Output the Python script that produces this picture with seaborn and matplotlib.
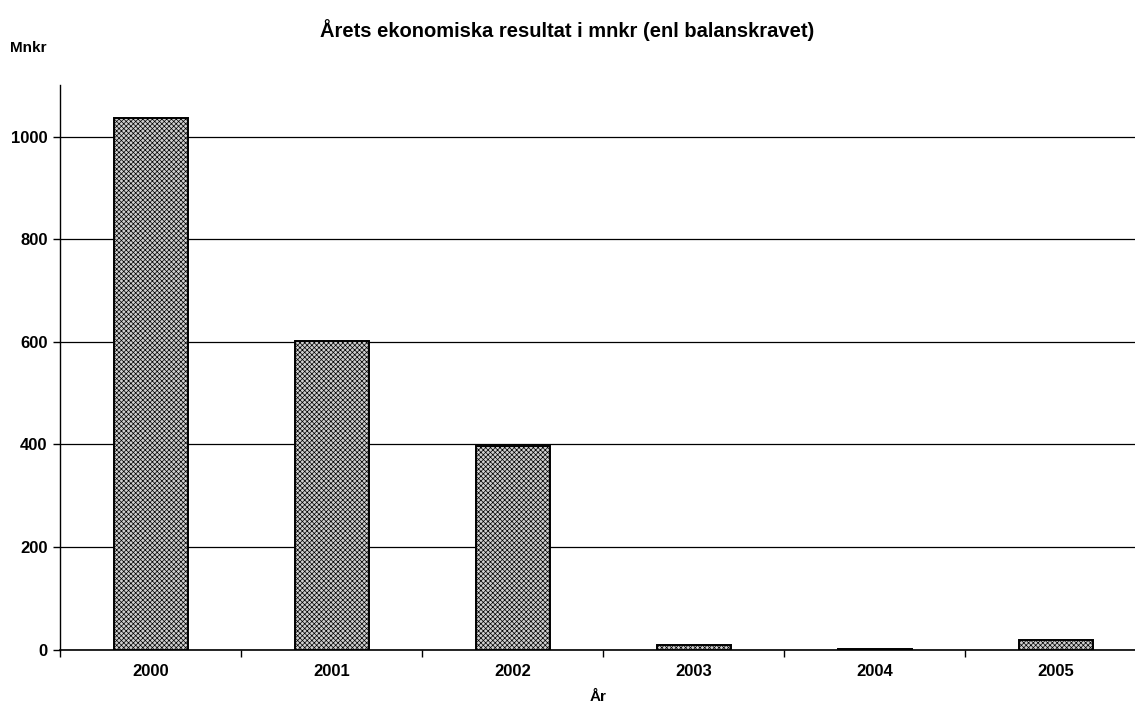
import matplotlib
matplotlib.use("Agg")
import matplotlib.pyplot as plt
import seaborn as sns
import pandas as pd

years = ["2000", "2001", "2002", "2003", "2004", "2005"]
result = [1037, 601, 397, 9, 2, 19]

df = pd.DataFrame({"year": years, "mnkr": result})

sns.set_style("white")
plt.rcParams['font.family'] = ['Liberation Sans', 'DejaVu Sans']
plt.rcParams['text.color'] = 'black'
plt.rcParams['xtick.color'] = 'black'
plt.rcParams['ytick.color'] = 'black'
plt.rcParams['axes.edgecolor'] = 'black'
plt.rcParams['hatch.color'] = '#555555'
plt.rcParams['hatch.linewidth'] = 0.5

fig = plt.figure(figsize=(11.35, 7.1), dpi=100)
ax = fig.add_axes([0.053, 0.085, 0.957, 0.795])

sns.barplot(data=df, x="year", y="mnkr", color="#cfcfcf", width=0.41,
            edgecolor="black", linewidth=1.4, ax=ax, zorder=3)
for p in ax.patches:
    p.set_hatch("xxxxxxx")

ax.set_ylim(0, 1100)
ax.set_xlim(-0.5, 5.5)
ax.set_yticks(range(0, 1001, 200))
ax.yaxis.grid(True, color="black", linewidth=0.9, zorder=0)
ax.set_axisbelow(True)

# tick marks between categories on x axis
ax.set_xticks([i + 0.5 for i in range(-1, 6)], minor=True)
ax.tick_params(axis="x", which="major", length=0, pad=10, labelsize=12)
ax.tick_params(axis="x", which="minor", length=5, direction="out", width=1)
ax.tick_params(axis="y", length=5, direction="out", width=1, labelsize=12, pad=4)
ax.xaxis.set_ticks_position("bottom")
ax.yaxis.set_ticks_position("left")
for lbl in ax.get_xticklabels() + ax.get_yticklabels():
    lbl.set_fontweight("bold")
    lbl.set_color("black")

for side in ["top", "right"]:
    ax.spines[side].set_visible(False)
ax.spines["left"].set_linewidth(1)
ax.spines["bottom"].set_linewidth(1.2)

ax.set_xlabel("")
ax.set_ylabel("")
fig.text(0.527, 0.008, "År", ha="center", va="bottom", fontsize=11, fontweight="bold")
fig.text(0.009, 0.932, "Mnkr", ha="left", va="center", fontsize=11, fontweight="bold")
fig.text(0.5, 0.958, "Årets ekonomiska resultat i mnkr (enl balanskravet)",
         ha="center", va="center", fontsize=14.5, fontweight="bold")

fig.savefig("out.png", dpi=100)
